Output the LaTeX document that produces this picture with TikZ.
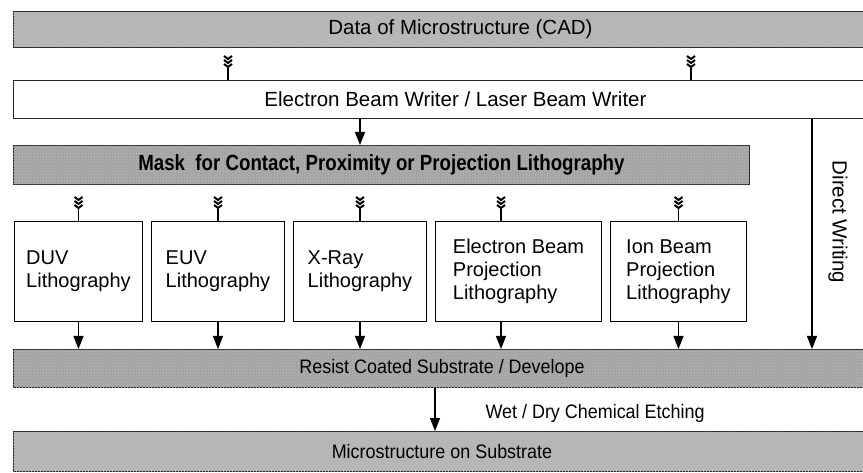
\documentclass[tikz,border=0pt]{standalone}
\usepackage{fontspec}
\setmainfont{Liberation Sans}
\usetikzlibrary{arrows.meta,calc,patterns}
\definecolor{barlight}{gray}{0.71}
\definecolor{bardark}{gray}{0.64}
\newcommand{\cond}[2]{\scalebox{#1}[1]{#2}}
\tikzset{
  every node/.style={font=\fontsize{20.5}{23.5}\selectfont},
  bar/.style={draw=black!85, line width=0.9pt, anchor=north west, inner sep=0pt,
    postaction={pattern=crosshatch dots, pattern color=black!25}},
  wbar/.style={draw=black!85, line width=0.9pt, anchor=north west, inner sep=0pt, fill=white},
  lbox/.style={draw=black, line width=1pt, fill=white, anchor=north west, inner sep=0pt, minimum height=100, align=left, font=\fontsize{20}{23}\selectfont},
  arr/.style={-{Triangle[length=13pt,width=10pt]}, line width=1.2pt},
  srcmark/.pic={
    \draw[line width=1.2pt] (0,0) -- (0,-12);
    \foreach \i in {0,1,2}
      \draw[line width=2pt] (-4,-24+\i*4) -- (0,-21+\i*4) -- (4,-24+\i*4);
  }
}
\begin{document}
\begin{tikzpicture}[x=1pt,y=-1pt]
\useasboundingbox (0,0) rectangle (863,473);
\clip (0,0) rectangle (863,473);
% bars
\node[bar, fill=barlight, minimum width=894, minimum height=36] (cad) at (13,11) {Data of Microstructure (CAD)};
\node[wbar, minimum width=884, minimum height=38] (writer) at (13,80) {Electron Beam Writer / Laser Beam Writer};
\node[bar, fill=bardark, minimum width=736, minimum height=39, font=\fontsize{22}{25}\selectfont\bfseries] (mask) at (13,145) {\cond{0.85}{Mask\ \ for Contact, Proximity or Projection Lithography}};
\node[bar, fill=bardark, minimum width=857, minimum height=38, font=\fontsize{19.5}{22}\selectfont] (resist) at (13,349) {\cond{0.92}{Resist Coated Substrate / Develope}};
\node[bar, fill=barlight, minimum width=857, minimum height=40, font=\fontsize{19.5}{22}\selectfont] (micro) at (13,431) {\cond{0.92}{Microstructure on Substrate}};
% lithography boxes
\node[lbox, minimum width=128] (duv) at (14,221) {DUV\\Lithography};
\node[lbox, minimum width=133] (euv) at (151,221) {EUV\\Lithography};
\node[lbox, minimum width=133] (xray) at (293,221) {X-Ray\\Lithography};
\node[lbox, minimum width=166] (ebeam) at (435,221) {Electron Beam\\Projection\\Lithography};
\node[lbox, minimum width=136] (ion) at (610,221) {Ion Beam\\Projection\\Lithography};
% helper coordinates
\coordinate (s1) at (228,0);
\coordinate (s2) at (691,0);
\coordinate (ebx) at (501,0);
\coordinate (dw) at (812,0);
\coordinate (etx) at (435,0);
% source marks
\pic at (writer.north -| s1) {srcmark};
\pic at (writer.north -| s2) {srcmark};
\pic at (duv.north) {srcmark};
\pic at (euv.north) {srcmark};
\pic at (xray.north) {srcmark};
\pic at (ebeam.north -| ebx) {srcmark};
\pic at (ion.north) {srcmark};
% arrows
\draw[arr] (writer.south -| xray) -- (mask.north -| xray);
\draw[arr] (duv.south) -- (resist.north -| duv.south);
\draw[arr] (euv.south) -- (resist.north -| euv.south);
\draw[arr] (xray.south) -- (resist.north -| xray.south);
\draw[arr] (ebeam.south -| ebx) -- (resist.north -| ebx);
\draw[arr] (ion.south) -- (resist.north -| ion.south);
\draw[arr] (writer.south -| dw) -- (resist.north -| dw);
\draw[arr] (resist.south -| etx) -- (micro.north -| etx);
% labels
\node[rotate=-90] (dwlabel) at (838,222) {Direct Writing};
\node[anchor=west, font=\fontsize{19.5}{22}\selectfont] (etlabel) at (482,413) {\cond{0.92}{Wet / Dry Chemical Etching}};
\end{tikzpicture}
\end{document}
